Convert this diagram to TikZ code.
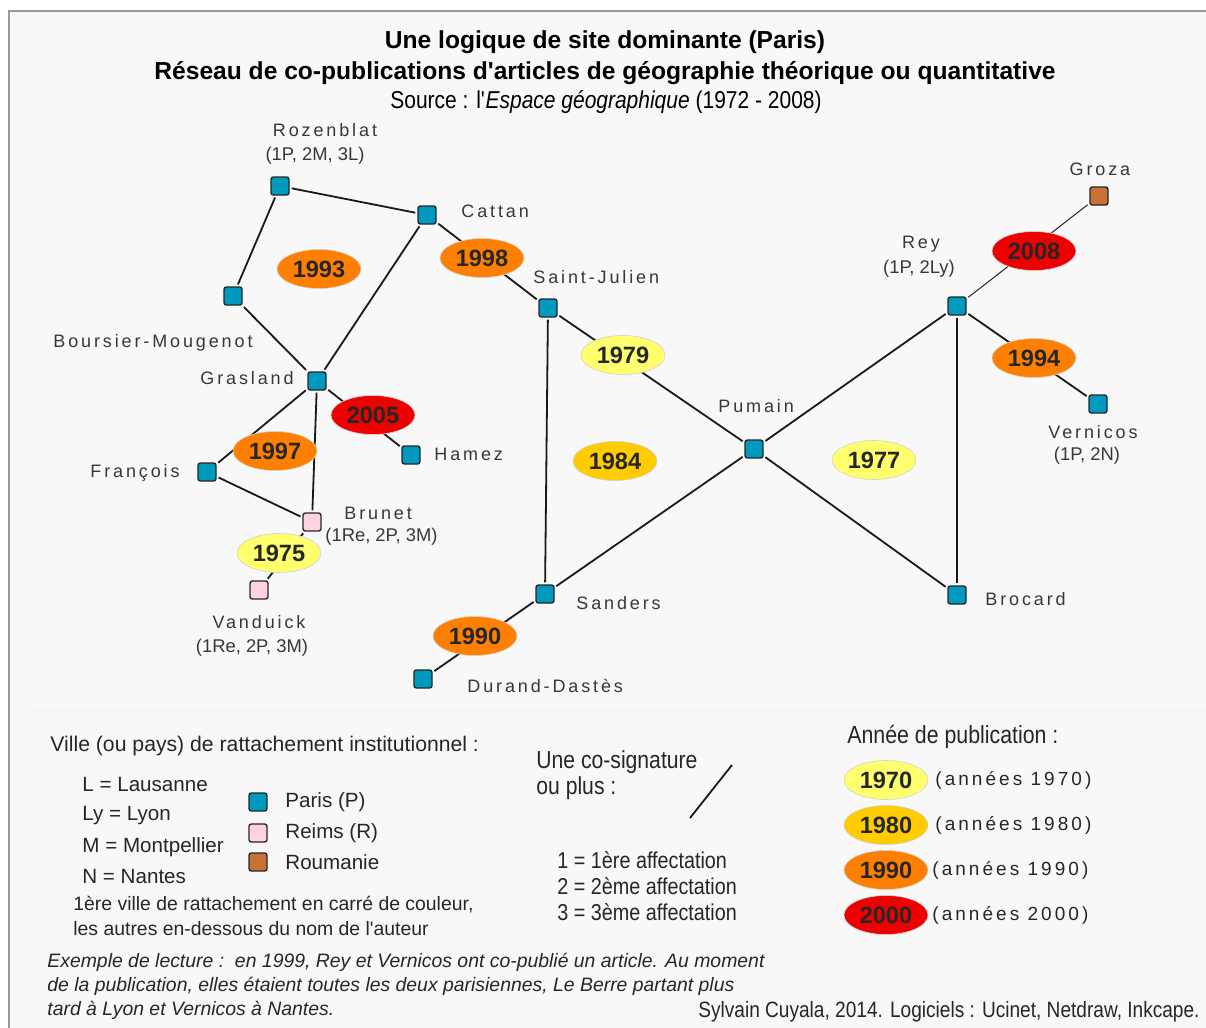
\documentclass[tikz,border=0pt]{standalone}
\usepackage{fontspec}
\setmainfont{Liberation Sans}
\newfontfamily\trackfont[LetterSpace=16]{Liberation Sans}
\newfontfamily\narrowfont[FakeStretch=0.86]{Liberation Sans}
\usetikzlibrary{shapes.geometric}
\definecolor{ParisBlue}{RGB}{0,154,190}
\definecolor{ReimsPink}{RGB}{255,210,224}
\definecolor{RoumBrown}{RGB}{200,113,55}
\definecolor{YearSeventy}{RGB}{255,255,110}
\definecolor{YearEighty}{RGB}{255,204,0}
\definecolor{YearNinety}{RGB}{255,128,0}
\definecolor{YearTwoK}{RGB}{236,0,0}
\definecolor{PaperGray}{RGB}{248,248,248}
\definecolor{TextGray}{RGB}{55,55,55}

\begin{document}
\begin{tikzpicture}[
  x=0.5pt, y=-0.5pt,
  author/.style={
    draw=black!85,
    rounded corners=1.2pt,
    minimum size=9pt,
    inner sep=0pt,
    line width=0.7pt
  },
  paris/.style={author, fill=ParisBlue},
  reims/.style={author, fill=ReimsPink},
  roum/.style={author, fill=RoumBrown},
  year/.style={
    ellipse,
    minimum width=42pt,
    minimum height=19.5pt,
    inner sep=0pt,
    draw=black!18,
    line width=0.3pt,
    text=black!85,
    font=\bfseries\fontsize{11.8}{12}\selectfont
  },
  seventy/.style={year, fill=YearSeventy},
  eighty/.style={year, fill=YearEighty},
  ninety/.style={year, fill=YearNinety},
  twok/.style={year, fill=YearTwoK},
  link/.style={line width=0.9pt, black!90, shorten <=1pt, shorten >=1pt},
  thinlink/.style={line width=0.5pt, black!85, shorten <=1pt, shorten >=1pt},
  aname/.style={font=\trackfont\fontsize{9}{10}\selectfont, text=TextGray, inner sep=0pt},
  aaff/.style={font=\fontsize{9.2}{10}\selectfont, text=TextGray, inner sep=0pt},
  legtext/.style={font=\fontsize{10.3}{11}\selectfont, text=black!85, inner sep=0pt, anchor=west},
  narrowtext/.style={font=\narrowfont\fontsize{11.5}{12}\selectfont, text=black!85, inner sep=0pt, anchor=west},
  readtext/.style={font=\itshape\fontsize{9.7}{11}\selectfont, text=black!85, inner sep=0pt, anchor=west}
]
\useasboundingbox (0,0) rectangle (1206,1028);
% Paper and frame
\fill[white] (0,0) rectangle (1206,1028);
\fill[PaperGray] (9,11) rectangle (1206,1028);
\draw[black!40, line width=0.8pt] (9,1028) -- (9,11) -- (1206,11);
\draw[black!5, line width=0.5pt] (27,710) -- (1206,710);

% Titles
\node[font=\bfseries\fontsize{12.3}{14}\selectfont, inner sep=0pt] (title) at (605,42) {Une logique de site dominante (Paris)};
\node[font=\bfseries\fontsize{12.3}{14}\selectfont, inner sep=0pt] (subtitle) at (605,73) {Réseau de co-publications d\textquotesingle articles de géographie théorique ou quantitative};
\node[font=\narrowfont\fontsize{12.2}{14}\selectfont, inner sep=0pt] (source) at (606,102) {Source : l\textquotesingle\textit{Espace géographique} (1972 - 2008)};

% Authors
\node[paris] (rozenblat) at (280,186) {};
\node[paris] (cattan)    at (427,215) {};
\node[paris] (boursier)  at (233,296) {};
\node[paris] (grasland)  at (317,381) {};
\node[paris] (hamez)     at (411,455) {};
\node[paris] (francois)  at (207,472) {};
\node[reims] (brunet)    at (312,522) {};
\node[reims] (vanduick)  at (259,590) {};
\node[paris] (stjulien)  at (548,308) {};
\node[paris] (pumain)    at (754,449) {};
\node[paris] (sanders)   at (545,594) {};
\node[paris] (durand)    at (423,679) {};
\node[paris] (rey)       at (957,306) {};
\node[roum]  (groza)     at (1099,196) {};
\node[paris] (vernicos)  at (1098,404) {};
\node[paris] (brocard)   at (957,595) {};

% Names and affiliations
\node[aname] (rozenblatname) at (325,130) {Rozenblat};
\node[aaff] (rozenblataff) at (315,156) {(1P, 2M, 3L)};
\node[aname, anchor=west] (cattanname) at (461,211) {Cattan};
\node[aname, anchor=west] (boursiername) at (53,343) {Boursier-Mougenot};
\node[aname, anchor=west] (graslandname) at (200,378) {Grasland};
\node[aname, anchor=west] (hamezname) at (434,454) {Hamez};
\node[aname, anchor=west] (francoisname) at (90,473) {François};
\node[aname, anchor=west] (brunetname) at (344,513) {Brunet};
\node[aaff, anchor=west] (brunetaff) at (325,537) {(1Re, 2P, 3M)};
\node[aname] (vanduickname) at (259,622) {Vanduick};
\node[aaff] (vanduickaff) at (252,648) {(1Re, 2P, 3M)};
\node[aname, anchor=west] (stjulienname) at (533,277) {Saint-Julien};
\node[aname, anchor=west] (pumainname) at (718,406) {Pumain};
\node[aname, anchor=west] (sandersname) at (576,603) {Sanders};
\node[aname, anchor=west] (durandname) at (467,686) {Durand-Dastès};
\node[aname] (reyname) at (921,244) {Rey};
\node[aaff] (reyaff) at (919,269) {(1P, 2Ly)};
\node[aname] (grozaname) at (1100,169) {Groza};
\node[aname] (vernicosname) at (1093,432) {Vernicos};
\node[aaff] (vernicosaff) at (1087,456) {(1P, 2N)};
\node[aname, anchor=west] (brocardname) at (985,599) {Brocard};

% Co-signatures
\draw[link] (rozenblat) -- (cattan);
\draw[link] (rozenblat) -- (boursier);
\draw[link] (boursier) -- (grasland);
\draw[link] (cattan) -- (grasland);
\draw[link] (cattan) -- (stjulien);
\draw[link] (grasland) -- (hamez);
\draw[link] (grasland) -- (francois);
\draw[link] (grasland) -- (brunet);
\draw[link] (francois) -- (brunet);
\draw[link] (brunet) -- (vanduick);
\draw[link] (stjulien) -- (pumain);
\draw[link] (stjulien) -- (sanders);
\draw[link] (sanders) -- (pumain);
\draw[link] (sanders) -- (durand);
\draw[link] (pumain) -- (rey);
\draw[link] (pumain) -- (brocard);
\draw[link] (rey) -- (brocard);
\draw[thinlink] (rey) -- (groza);
\draw[link] (rey) -- (vernicos);

% Years
\node[ninety]  (y1993) at (319,269) {1993};
\node[ninety]  (y1998) at (482,258) {1998};
\node[twok]    (y2005) at (373,415) {2005};
\node[ninety]  (y1997) at (275,451) {1997};
\node[seventy] (y1975) at (279,553) {1975};
\node[seventy] (y1979) at (623,355) {1979};
\node[eighty]  (y1984) at (615,461) {1984};
\node[ninety]  (y1990) at (475,636) {1990};
\node[seventy] (y1977) at (874,460) {1977};
\node[twok]    (y2008) at (1034,251) {2008};
\node[ninety]  (y1994) at (1034,358) {1994};

% Legend: affiliations
\node[legtext, font=\fontsize{10.6}{12}\selectfont] (villetitle) at (50,746) {Ville (ou pays) de rattachement institutionnel :};
\node[legtext] (lausanne) at (82,785) {L = Lausanne};
\node[legtext] (lyon) at (82,816) {Ly = Lyon};
\node[legtext] (montpellier) at (82,847) {M = Montpellier};
\node[legtext] (nantes) at (82,877) {N = Nantes};
\node[paris] (legparis) at (258,802) {};
\node[reims] (legreims) at (258,833) {};
\node[roum]  (legroum)  at (258,862) {};
\node[legtext] (parislabel) at (285,802) {Paris (P)};
\node[legtext] (reimslabel) at (285,833) {Reims (R)};
\node[legtext] (roumlabel) at (285,862) {Roumanie};
\node[legtext, font=\fontsize{9.7}{11}\selectfont] (firstcity) at (73,905) {1ère ville de rattachement en carré de couleur,};
\node[legtext, font=\fontsize{9.7}{11}\selectfont] (othercity) at (73,929) {les autres en-dessous du nom de l\textquotesingle auteur};

% Legend: reading example
\node[readtext] (readone) at (47,962) {Exemple de lecture :\ \ en 1999, Rey et Vernicos ont co-publié un article. Au moment};
\node[readtext] (readtwo) at (47,986) {de la publication, elles étaient toutes les deux parisiennes, Le Berre partant plus};
\node[readtext] (readthree) at (47,1010) {tard à Lyon et Vernicos à Nantes.};

% Legend: co-signature
\node[narrowtext, font=\narrowfont\fontsize{12.3}{14}\selectfont] (sigone) at (536,762) {Une co-signature};
\node[narrowtext, font=\narrowfont\fontsize{12.3}{14}\selectfont] (sigtwo) at (536,788) {ou plus :};
\coordinate (siglow) at (690,818);
\coordinate (sighigh) at (732,765);
\draw[line width=0.9pt, black!90] (siglow) -- (sighigh);
\node[narrowtext] (affone) at (557,860) {1 = 1ère affectation};
\node[narrowtext] (afftwo) at (557,886) {2 = 2ème affectation};
\node[narrowtext] (affthree) at (557,912) {3 = 3ème affectation};

% Legend: years
\node[narrowtext, font=\narrowfont\fontsize{12.4}{14}\selectfont] (yeartitle) at (847,737) {Année de publication :};
\node[seventy] (leg1970) at (886,780) {1970};
\node[eighty]  (leg1980) at (886,825) {1980};
\node[ninety]  (leg1990) at (886,870) {1990};
\node[twok]    (leg2000) at (886,915) {2000};
\node[aname, anchor=west, text=black!85, font=\trackfont\fontsize{9.5}{10}\selectfont] (dec1970) at (935,780) {(années 1970)};
\node[aname, anchor=west, text=black!85, font=\trackfont\fontsize{9.5}{10}\selectfont] (dec1980) at (935,825) {(années 1980)};
\node[aname, anchor=west, text=black!85, font=\trackfont\fontsize{9.5}{10}\selectfont] (dec1990) at (932,870) {(années 1990)};
\node[aname, anchor=west, text=black!85, font=\trackfont\fontsize{9.5}{10}\selectfont] (dec2000) at (932,915) {(années 2000)};

% Credits
\node[narrowtext, font=\narrowfont\fontsize{11.1}{13}\selectfont, anchor=east] (credits) at (1200,1012) {Sylvain Cuyala, 2014. Logiciels : Ucinet, Netdraw, Inkcape.};
\end{tikzpicture}
\end{document}
